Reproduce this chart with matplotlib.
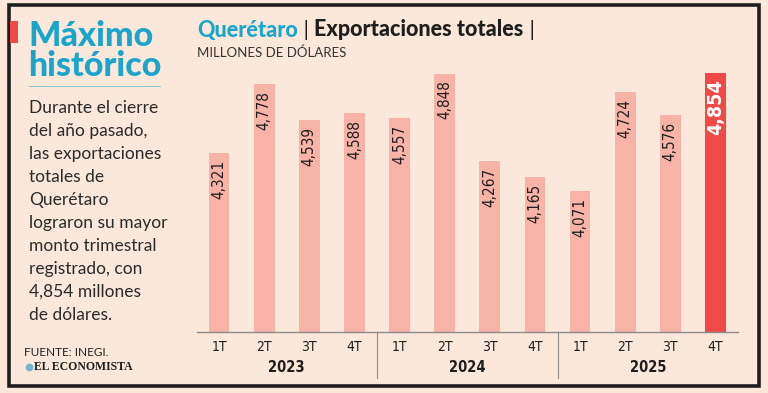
import numpy as np
import matplotlib.pyplot as plt
from matplotlib.patches import Rectangle

## Data
quarters = ['1T', '2T', '3T', '4T'] * 3
years = ['2023', '2024', '2025']
values = [4321, 4778, 4539, 4588, 4557, 4848, 4267, 4165, 4071, 4724, 4576, 4854]
value_labels = ['4,321', '4,778', '4,539', '4,588', '4,557', '4,848',
                '4,267', '4,165', '4,071', '4,724', '4,576', '4,854']

body_lines = ['Durante el cierre', 'del año pasado,', 'las exportaciones',
              'totales de', 'Querétaro', 'lograron su mayor', 'monto trimestral',
              'registrado, con', '4,854 millones', 'de dólares.']

## Colors
bg = '#fce8da'
bar_c = '#f7b3a6'
hi_c = '#f04a48'
cyan = '#1aa5cc'
dark = '#1e1e1e'
cond = dict(family='DejaVu Sans', stretch='condensed')

W, H = 768, 393
fig = plt.figure(figsize=(W / 100, H / 100), dpi=100, facecolor=bg)

def px(x, y):
    return x / W, 1 - y / H

## frame
fig.patches.append(Rectangle(px(9, 386), 750 / W, 381 / H, transform=fig.transFigure,
                             fill=False, lw=2.6, ec=dark))
fig.patches.append(Rectangle(px(10, 43), 8 / W, 22 / H, transform=fig.transFigure,
                             fc='#ef4a48', ec='none'))

## left panel
fig.text(*px(28, 36), 'Máximo', color=cyan, fontsize=24.5, fontweight='black',
         family='Lato', va='center')
fig.text(*px(28, 66), 'histórico', color=cyan, fontsize=24.5, fontweight='black',
         family='Lato', va='center')
fig.add_artist(plt.Line2D([29 / W, 160 / W], [1 - 86 / H] * 2, color='#8fc6d8', lw=0.8))
for i, line in enumerate(body_lines):
    fig.text(*px(29, 108 + 23 * i), line, color='#2a2a2a', fontsize=12.5, family='Lato',
             va='center')
fig.text(*px(24, 353), 'FUENTE: INEGI.', color=dark, fontsize=8.5, family='Lato', va='center')
fig.add_artist(plt.Line2D([29 / W], [1 - 367 / H], marker='o', ms=5.5, color='#6fb6d6', mec='none'))
fig.text(*px(34, 367), 'EL ECONOMISTA', color=dark, fontsize=8.5, family='Liberation Serif',
         fontweight='bold', va='center')

## chart title pieces, placed one after the other
renderer = fig.canvas.get_renderer()
x0 = 197
pieces = [('Querétaro', cyan, 'black'), (' | ', dark, 'normal'),
          ('Exportaciones totales', dark, 'black'), (' |', dark, 'normal')]
for txt, col, wt in pieces:
    t = fig.text(*px(x0, 30), txt, color=col, fontsize=15.5, fontweight=wt,
                 family='Lato', va='center')
    x0 += t.get_window_extent(renderer).width
fig.text(*px(197, 53), 'MILLONES DE DÓLARES', color='#333333', fontsize=9.5,
         family='Lato', va='center')

## bars
ax = fig.add_axes([197 / W, 1 - 332 / H, (738 - 197) / W, (332 - 62) / H])
ax.set_facecolor(bg)
x = np.arange(len(values))
colors = [bar_c] * (len(values) - 1) + [hi_c]
ax.bar(x, values, width=0.46, color=colors, zorder=2)
ax.set_xlim(-0.49, 11.5)
ax.set_ylim(3135, 4925)
for s in ['top', 'right', 'left']:
    ax.spines[s].set_visible(False)
ax.spines['bottom'].set_color('#8a8a8a')
ax.spines['bottom'].set_linewidth(1)
ax.set_yticks([])
ax.set_xticks([])

for i, (v, lab) in enumerate(zip(values, value_labels)):
    last = i == len(values) - 1
    ax.annotate(lab, (i, v), xytext=(0, -5), textcoords='offset points',
                rotation=90, ha='center', va='top',
                fontsize=14 if last else 11, fontweight='bold' if last else 'normal',
                color='white' if last else dark, zorder=3, **cond)

for i, q in enumerate(quarters):
    ax.text(i, -0.055, q, transform=ax.get_xaxis_transform(), ha='center', va='center',
            fontsize=10, color=dark, **cond)
for j, yr in enumerate(years):
    ax.text(4 * j + 1.5, -0.13, yr, transform=ax.get_xaxis_transform(), ha='center',
            va='center', fontsize=10.5, fontweight='bold', color=dark, **cond)
for xd in [3.5, 7.5]:
    ax.plot([xd, xd], [0, -0.17], transform=ax.get_xaxis_transform(), color='#8a8a8a',
            lw=0.8, clip_on=False)

fig.savefig('out.png', dpi=100, facecolor=bg)
